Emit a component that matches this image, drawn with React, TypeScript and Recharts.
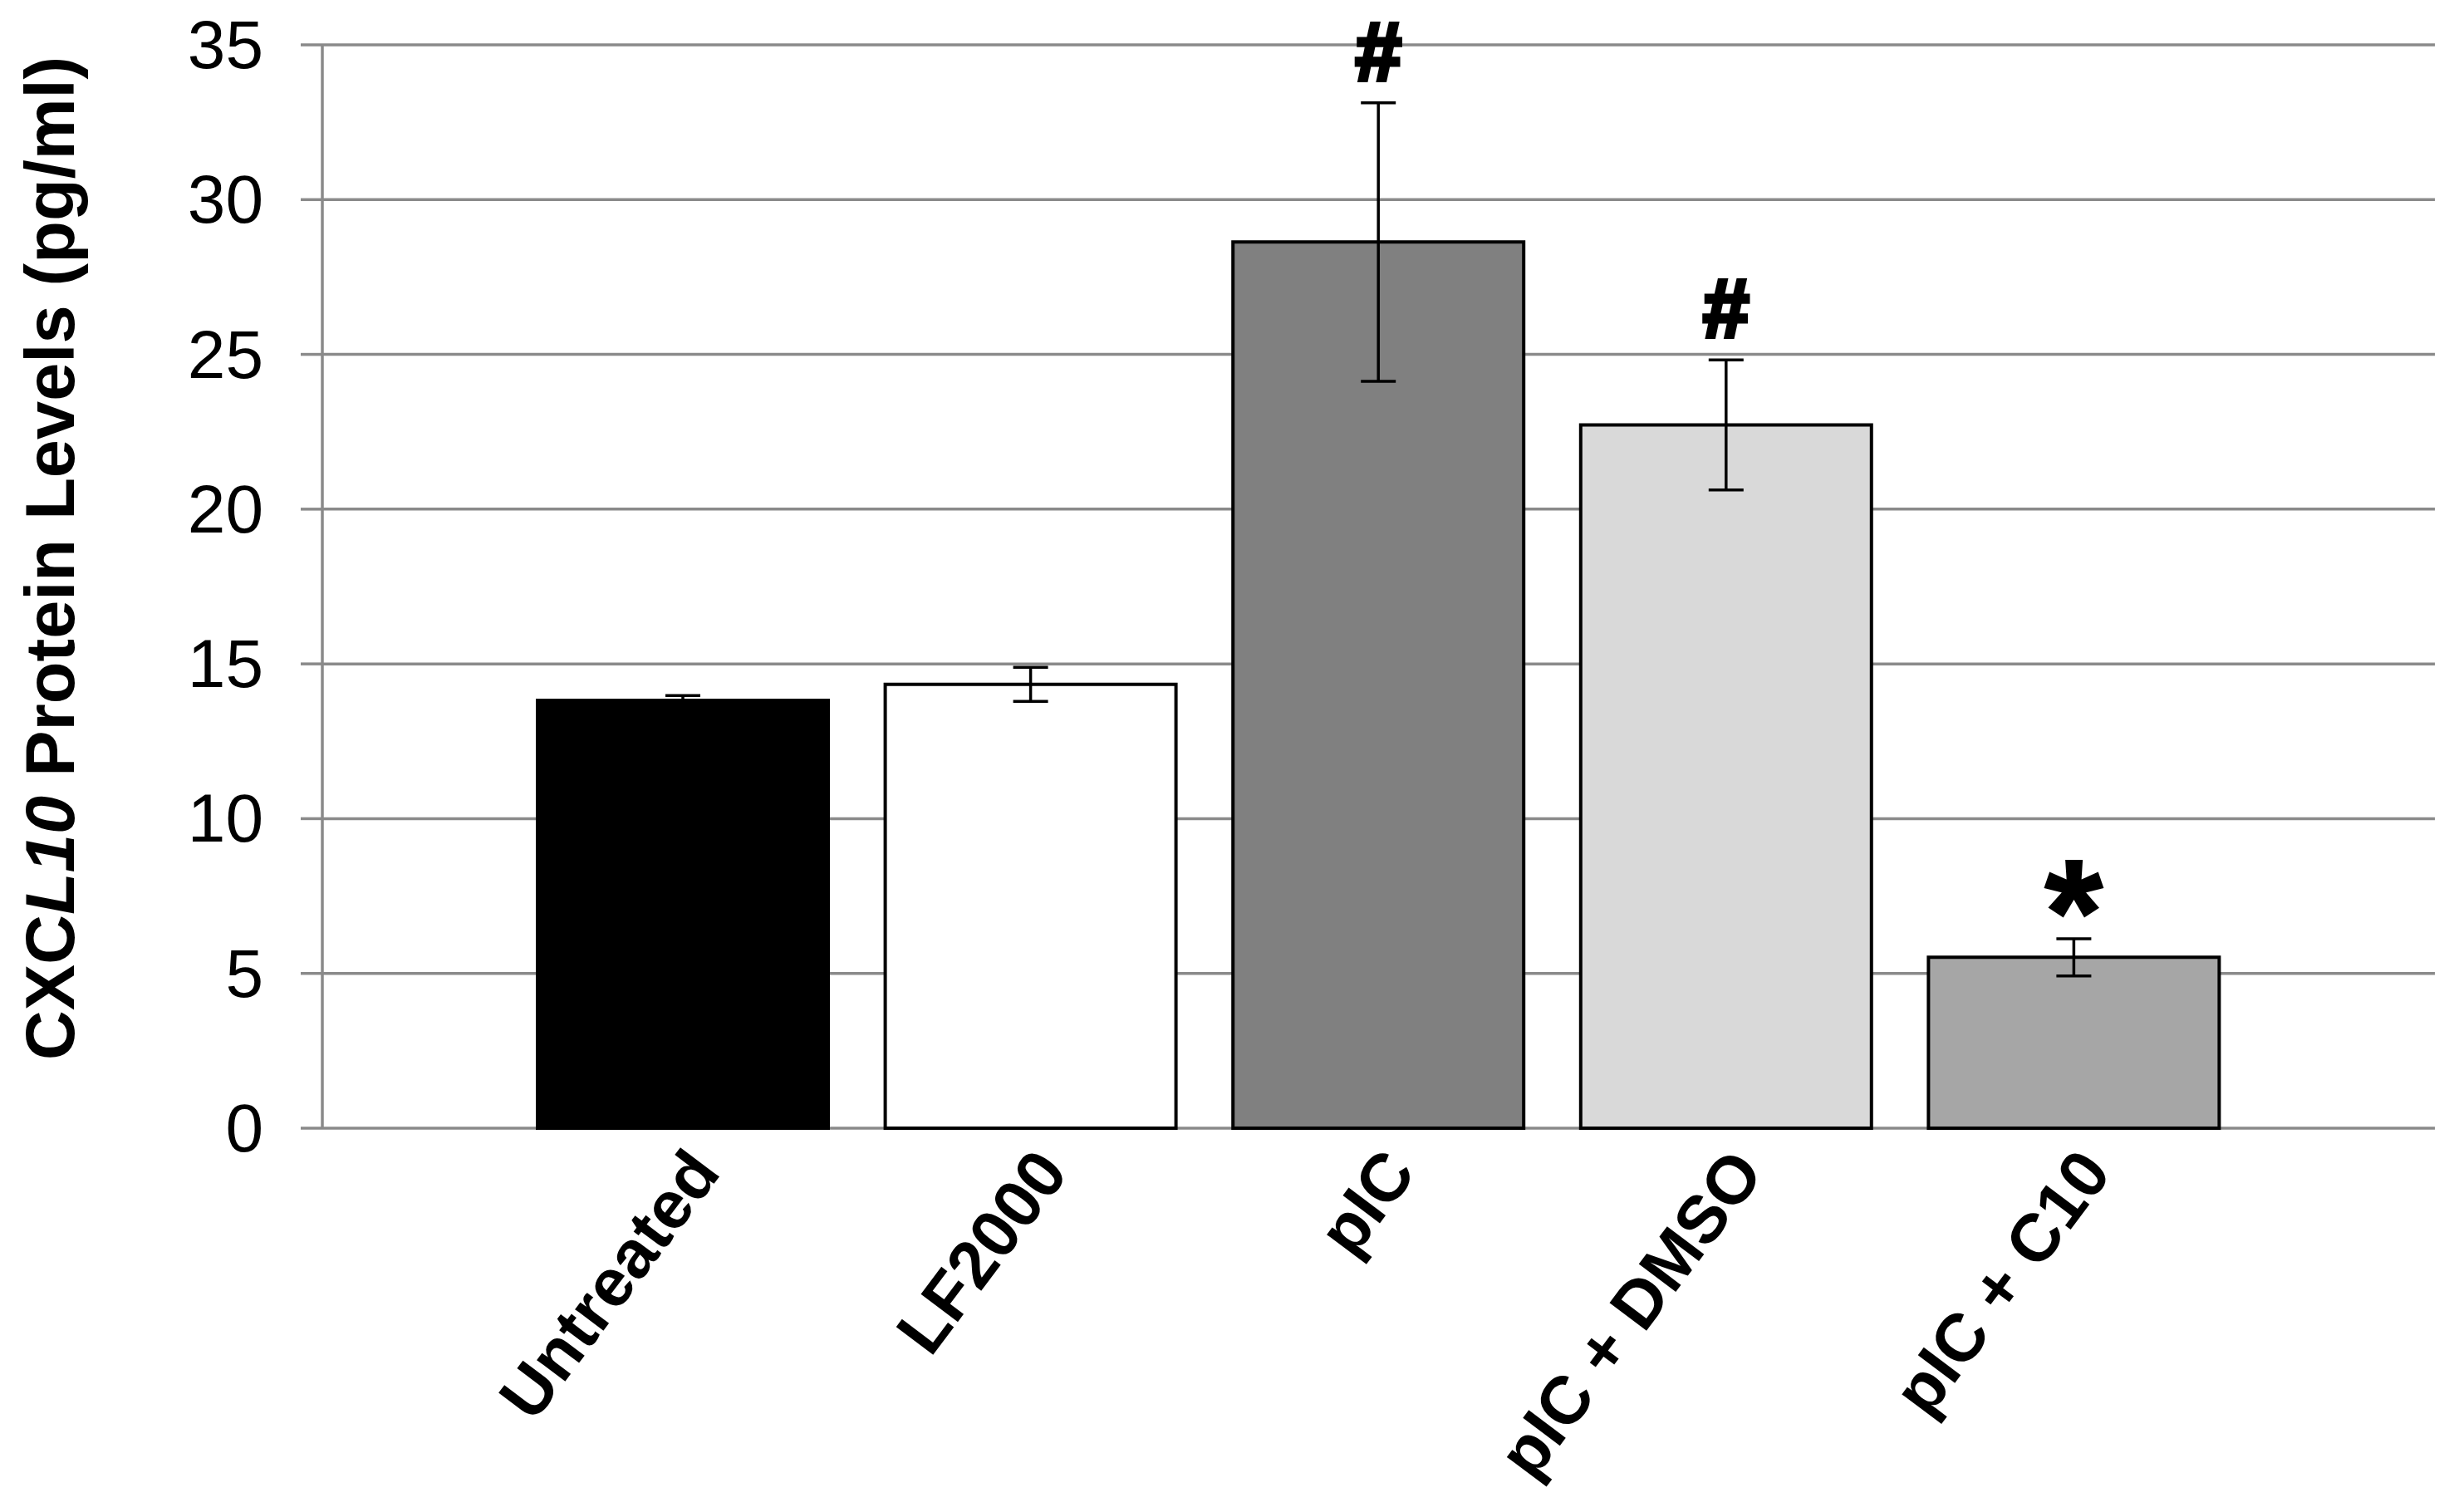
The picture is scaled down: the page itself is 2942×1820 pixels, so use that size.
import React from 'react';
import { BarChart, Bar, XAxis, YAxis, CartesianGrid, ErrorBar, Cell, LabelList } from 'recharts';

const categories = ['Untreated', 'LF2000', 'pIC', 'pIC + DMSO', 'pIC + C10'];
const values = [13.82, 14.34, 28.63, 22.72, 5.52];
const errors = [0.16, 0.55, 4.5, 2.1, 0.6];
const marks = ['', '', '#', '#', '*'];
const fills = ['#000000', '#ffffff', '#808080', '#d9d9d9', '#a6a6a6'];
const yTicks = [0, 5, 10, 15, 20, 25, 30, 35];

const data = categories.map((name, i) => ({ name, value: values[i], err: errors[i], mark: marks[i] }));

const FONT = '"Liberation Sans", Arial, Helvetica, sans-serif';
const GRID = '#8a8a8a';

function YTick(props: any) {
  const { x, y, payload } = props;
  return (
    <text x={x - 45} y={y + 28} textAnchor="end" fontFamily={FONT} fontSize={82} fill="#000">
      {payload.value}
    </text>
  );
}

function XTick(props: any) {
  const { x, y, payload } = props;
  const ex = x + 47;
  const ey = y + 54;
  return (
    <text
      x={ex}
      y={ey}
      transform={`rotate(-53 ${ex} ${ey})`}
      textAnchor="end"
      fontFamily={FONT}
      fontWeight="bold"
      fontSize={81}
      fill="#000"
    >
      {payload.value}
    </text>
  );
}

function TitleLabel() {
  return (
    <text
      x={89}
      y={672}
      transform="rotate(-90 89 672)"
      textAnchor="middle"
      fontFamily={FONT}
      fontWeight="bold"
      fontSize={83}
      fill="#000"
    >
      <tspan>CXC</tspan>
      <tspan fontStyle="italic">L10</tspan>
      <tspan> Protein Levels (pg/ml)</tspan>
    </text>
  );
}

function renderMark(props: any) {
  const vb = props.viewBox || {};
  const x = Number(props.x ?? vb.x);
  const y = Number(props.y ?? vb.y);
  const width = Number(props.width ?? vb.width);
  const height = Number(props.height ?? vb.height);
  const index = props.index;
  const m = marks[index];
  if (!m) return null;
  const v = values[index];
  const e = errors[index];
  const pxPerUnit = Math.abs(height) / v;
  const errTop = y - e * pxPerUnit;
  const cx = x + width / 2;
  if (m === '*') {
    return (
      <text x={cx} y={errTop + 30} textAnchor="middle" fontFamily={FONT} fontWeight="bold" fontSize={180} fill="#000" stroke="#000" strokeWidth={2}>
        *
      </text>
    );
  }
  return (
    <text x={cx} y={errTop - 27} textAnchor="middle" fontFamily={FONT} fontWeight="bold" fontSize={100} fill="#000" stroke="#000" strokeWidth={5}>
      {m}
    </text>
  );
}

export default function App() {
  return (
    <div style={{ position: 'absolute', left: 0, top: 0, width: 2942, height: 1820, background: '#fff' }}>
      <BarChart
        width={2942}
        height={1820}
        data={data}
        margin={{ top: 54, right: 11, left: 0, bottom: 0 }}
      >
        <CartesianGrid vertical={false} stroke={GRID} strokeWidth={3.5} />
        <XAxis
          dataKey="name"
          height={462}
          padding={{ left: 225, right: 225 }}
          axisLine={false}
          tickLine={false}
          tickSize={0}
          tickMargin={0}
          interval={0}
          tick={<XTick />}
        />
        <YAxis
          domain={[0, 35]}
          ticks={yTicks}
          width={388}
          interval={0}
          axisLine={{ stroke: GRID, strokeWidth: 3.5 }}
          tickLine={{ stroke: GRID, strokeWidth: 3.5 }}
          tickSize={26}
          tickMargin={0}
          tick={<YTick />}
          label={<TitleLabel />}
        />
        <Bar dataKey="value" barSize={350} stroke="#000" strokeWidth={4} isAnimationActive={false}>
          {data.map((d, i) => (
            <Cell key={d.name} fill={fills[i]} />
          ))}
          <ErrorBar dataKey="err" width={21} stroke="#000" strokeWidth={3.5} direction="y" isAnimationActive={false} />
          <LabelList dataKey="mark" content={renderMark} />
        </Bar>
      </BarChart>
    </div>
  );
}
